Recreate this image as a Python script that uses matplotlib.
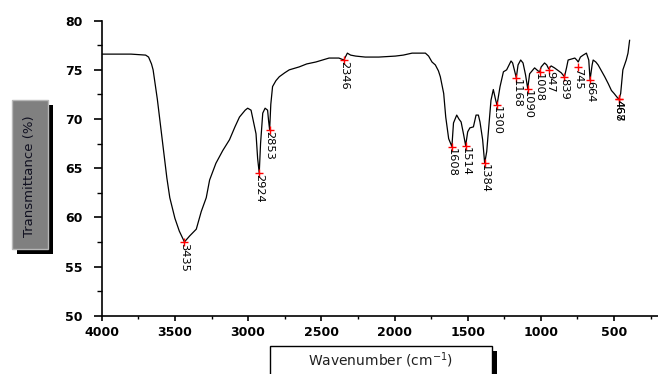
import matplotlib
matplotlib.use("Agg")
import matplotlib.pyplot as plt
from matplotlib.patches import Rectangle
from matplotlib.ticker import MultipleLocator
from matplotlib.transforms import ScaledTranslation

# FTIR spectrum
wavenumber = [4000, 3800, 3700, 3680, 3660, 3649, 3620, 3581, 3555, 3535,
              3500, 3470, 3435, 3400, 3354, 3320, 3286, 3263, 3220, 3173,
              3127, 3090, 3059, 3020, 3003, 2980, 2960, 2946, 2935, 2924,
              2915, 2900, 2884, 2867, 2860, 2853, 2845, 2833, 2810, 2787,
              2750, 2719, 2651, 2600, 2537, 2447, 2380, 2346, 2322, 2300,
              2265, 2200, 2107, 2050, 1994, 1940, 1880, 1789, 1767, 1744,
              1721, 1700, 1687, 1664, 1650, 1630, 1608, 1597, 1575, 1560,
              1545, 1529, 1514, 1500, 1485, 1461, 1443, 1427, 1416, 1398,
              1384, 1370, 1341, 1325, 1310, 1300, 1279, 1256, 1234, 1204,
              1193, 1168, 1156, 1138, 1122, 1105, 1090, 1077, 1043, 1020,
              1008, 998, 975, 960, 947, 930, 907, 880, 861, 839,
              825, 814, 790, 768, 755, 745, 730, 711, 689, 673,
              664, 650, 643, 625, 609, 590, 564, 540, 518, 500,
              484, 467, 455, 440, 417, 405, 394]
transmittance = [76.6, 76.6, 76.5, 76.3, 75.6, 75.0, 72.0, 67.2, 64.0, 62.0,
                 59.9, 58.6, 57.5, 58.1, 58.8, 60.6, 62.0, 63.8, 65.5, 66.8,
                 67.9, 69.2, 70.2, 70.9, 71.1, 70.9, 69.5, 68.5, 66.0, 64.5,
                 67.5, 70.6, 71.1, 70.9, 69.8, 68.9, 71.5, 73.3, 73.9, 74.3,
                 74.7, 75.0, 75.3, 75.6, 75.8, 76.2, 76.2, 76.0, 76.7, 76.5,
                 76.4, 76.3, 76.3, 76.35, 76.4, 76.5, 76.7, 76.7, 76.4, 75.8,
                 75.5, 74.9, 74.3, 72.6, 70.2, 68.0, 67.2, 69.6, 70.4, 70.0,
                 69.7, 68.5, 67.3, 68.7, 69.1, 69.2, 70.4, 70.4, 69.7, 67.9,
                 65.5, 66.7, 71.9, 73.0, 72.0, 71.4, 73.3, 74.8, 75.0, 75.9,
                 75.7, 74.2, 75.5, 76.0, 75.7, 74.5, 73.1, 74.6, 75.2, 74.9,
                 74.8, 75.3, 75.7, 75.5, 75.1, 75.4, 75.2, 74.9, 74.7, 74.3,
                 75.2, 76.0, 76.1, 76.2, 76.0, 75.8, 76.3, 76.5, 76.7, 76.0,
                 74.0, 75.5, 76.0, 75.8, 75.5, 75.0, 74.3, 73.6, 72.9, 72.6,
                 72.3, 72.0, 72.6, 75.0, 76.0, 76.7, 78.0]

# labelled peaks
peak_pos = [3435, 2924, 2853, 2346, 1608, 1514, 1384, 1300, 1168, 1090,
            1008, 947, 839, 745, 664, 467, 468]
peak_val = [57.5, 64.5, 68.9, 76.0, 67.2, 67.3, 65.5, 71.4, 74.2, 73.1,
            74.8, 75.0, 74.3, 75.3, 74.0, 72.0, 72.0]

# small sideways nudges (points) for crowded labels
nudge = {1008: -1.0, 947: 1.5}

fig = plt.figure(figsize=(6.58, 3.74), dpi=100)
ax = fig.add_axes([0.1546, 0.1559, 0.8454, 0.7888])

ax.plot(wavenumber, transmittance, color="black", lw=0.9)
ax.plot(peak_pos, peak_val, ls="none", marker="+", color="red",
        markersize=6, mew=1.0)
for p, v in zip(peak_pos, peak_val):
    dx = nudge.get(p, 0.0) / 72
    tr = ax.transData + ScaledTranslation(dx, 0, fig.dpi_scale_trans)
    ax.text(p, v - 0.1, str(p), rotation=270, ha="center", va="top",
            fontsize=8.2, color="black", transform=tr)

ax.set_xlim(4000, 200)
ax.set_ylim(50, 80)
ax.xaxis.set_major_locator(MultipleLocator(500))
ax.xaxis.set_minor_locator(MultipleLocator(250))
ax.yaxis.set_major_locator(MultipleLocator(5))
ax.yaxis.set_minor_locator(MultipleLocator(2.5))

for s in ["top", "right"]:
    ax.spines[s].set_visible(False)
for s in ["left", "bottom"]:
    ax.spines[s].set_linewidth(1.2)

ax.tick_params(axis="y", which="major", direction="out", length=6,
               width=1.2, pad=8)
ax.tick_params(axis="y", which="minor", direction="out", length=3.5,
               width=1.0)
ax.tick_params(axis="x", which="major", direction="out", length=3.5,
               width=1.2, pad=4)
ax.tick_params(axis="x", which="minor", direction="out", length=2.5,
               width=1.0)
for lab in ax.get_xticklabels() + ax.get_yticklabels():
    lab.set_fontweight("bold")
    lab.set_fontsize(9)

W, H = 658, 374


def box(x0, y0, x1, y1, fc, ec, shadow):
    # pixel coords from top-left
    if shadow:
        fig.patches.append(Rectangle((x0 / W + 5 / W, 1 - (y1 + 5) / H),
                                     (x1 - x0) / W, (y1 - y0) / H,
                                     transform=fig.transFigure,
                                     fc="black", ec="none"))
    fig.patches.append(Rectangle((x0 / W, 1 - y1 / H), (x1 - x0) / W,
                                 (y1 - y0) / H, transform=fig.transFigure,
                                 fc=fc, ec=ec, lw=1.0))


box(12, 100, 48, 249, "#808080", "#b8b8b8", True)
fig.text(30 / W, 1 - 176 / H, "Transmittance (%)", rotation=90,
         ha="center", va="center", fontsize=9.5, color="#101020")

box(270, 346, 492, 380, "white", "black", True)
fig.text(381 / W, 1 - 360 / H, "Wavenumber (cm$^{-1}$)", ha="center",
         va="center", fontsize=10, color="#202020")

fig.savefig("out.png", dpi=100)
